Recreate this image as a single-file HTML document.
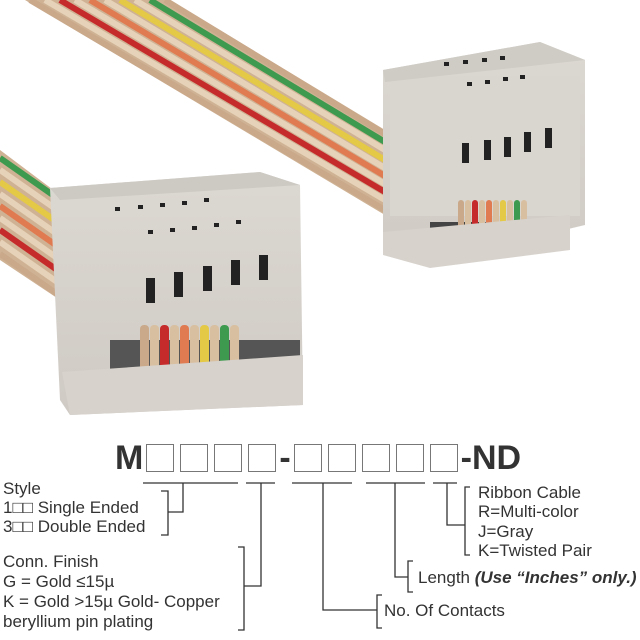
<!DOCTYPE html>
<html><head><style>
body{margin:0;width:640px;height:640px;background:#fff;overflow:hidden;position:relative;font-family:"Liberation Sans",sans-serif;color:#333}
.t{position:absolute;font-size:17px;white-space:nowrap;line-height:1}
.b{display:inline-block;width:26px;height:26px;border:1.5px solid #777;margin:0 3px;vertical-align:-3px}
</style></head><body>
<svg width="640" height="430" style="position:absolute;left:0;top:0">
<defs><linearGradient id="g" x1="0" y1="0" x2="0" y2="1"><stop offset="0" stop-color="#dcd8d2"/><stop offset="1" stop-color="#cfcac4"/></linearGradient></defs>
<path d="M25,0 L170,0 L385,130 L385,215 Z" fill="#cfb294"/>
<path d="M0,150 L60,195 L60,300 L0,260 Z" fill="#cfb294"/>
<g fill="none" stroke-width="6">
<path d="M30,0 L385,210" stroke="#c9a98a"/>
<path d="M45,0 L385,200" stroke="#e6d2b8"/>
<path d="M60,0 L385,192" stroke="#c62b2b"/>
<path d="M75,0 L385,184" stroke="#e6d2b8"/>
<path d="M90,0 L385,176" stroke="#e07a50"/>
<path d="M105,0 L385,168" stroke="#e6d2b8"/>
<path d="M120,0 L385,160" stroke="#e3c946"/>
<path d="M135,0 L385,150" stroke="#e6d2b8"/>
<path d="M150,0 L385,142" stroke="#3e9a4e"/>
<path d="M165,0 L385,134" stroke="#c9a98a"/>
<path d="M0,158 L60,200" stroke="#3e9a4e"/>
<path d="M0,170 L60,212" stroke="#e6d2b8"/>
<path d="M0,182 L60,224" stroke="#e3c946"/>
<path d="M0,194 L60,236" stroke="#e6d2b8"/>
<path d="M0,206 L60,248" stroke="#e07a50"/>
<path d="M0,218 L60,260" stroke="#e6d2b8"/>
<path d="M0,230 L60,272" stroke="#c62b2b"/>
<path d="M0,242 L60,284" stroke="#e6d2b8"/>
<path d="M0,254 L60,296" stroke="#c9a98a"/>
</g>
<path d="M383,70 L540,42 L585,60 L585,225 L430,262 L383,240 Z" fill="url(#g)"/>
<rect x="390" y="76" width="190" height="140" fill="#d9d5cf"/>
<path d="M383,70 L540,42 L585,60 L385,82Z" fill="#cfcbc5"/>
<g fill="#222"><rect x="462" y="143" width="7" height="20"/><rect x="484" y="140" width="7" height="20"/><rect x="504" y="137" width="7" height="20"/><rect x="524" y="132" width="7" height="20"/><rect x="545" y="128" width="7" height="20"/>
<rect x="444" y="62" width="5" height="4"/><rect x="463" y="60" width="5" height="4"/><rect x="482" y="58" width="5" height="4"/><rect x="500" y="56" width="5" height="4"/><rect x="467" y="82" width="5" height="4"/><rect x="485" y="80" width="5" height="4"/><rect x="503" y="77" width="5" height="4"/><rect x="520" y="75" width="5" height="4"/></g>
<rect x="430" y="222" width="140" height="18" fill="#444"/>
<g><rect x="458" y="200" width="6" height="42" rx="3" fill="#c9a98a"/><rect x="465" y="200" width="6" height="42" rx="3" fill="#d8bfa0"/><rect x="472" y="200" width="6" height="42" rx="3" fill="#c62b2b"/><rect x="479" y="200" width="6" height="42" rx="3" fill="#d8bfa0"/><rect x="486" y="200" width="6" height="42" rx="3" fill="#e07a50"/><rect x="493" y="200" width="6" height="42" rx="3" fill="#d8bfa0"/><rect x="500" y="200" width="6" height="42" rx="3" fill="#e3c946"/><rect x="507" y="200" width="6" height="42" rx="3" fill="#d8bfa0"/><rect x="514" y="200" width="6" height="42" rx="3" fill="#3e9a4e"/><rect x="521" y="200" width="6" height="42" rx="3" fill="#d8bfa0"/></g>
<path d="M383,232 L570,215 L570,250 L430,268 L383,255Z" fill="#d7d2cc"/>
<path d="M50,188 L260,172 L300,185 L303,405 L70,415 L60,400 Z" fill="url(#g)"/>
<path d="M50,188 L260,172 L300,185 L60,200Z" fill="#cdc9c3"/>
<g fill="#222"><rect x="146" y="278" width="9" height="25"/><rect x="174" y="272" width="9" height="25"/><rect x="203" y="266" width="9" height="25"/><rect x="231" y="260" width="9" height="25"/><rect x="259" y="255" width="9" height="25"/>
<rect x="115" y="207" width="5" height="4"/><rect x="138" y="205" width="5" height="4"/><rect x="160" y="203" width="5" height="4"/><rect x="182" y="201" width="5" height="4"/><rect x="204" y="198" width="5" height="4"/><rect x="148" y="230" width="5" height="4"/><rect x="170" y="228" width="5" height="4"/><rect x="192" y="226" width="5" height="4"/><rect x="214" y="223" width="5" height="4"/><rect x="236" y="220" width="5" height="4"/></g>
<rect x="110" y="340" width="190" height="32" fill="#555"/>
<g><rect x="140" y="325" width="9" height="60" rx="4" fill="#c9a98a"/><rect x="150" y="325" width="9" height="60" rx="4" fill="#d8bfa0"/><rect x="160" y="325" width="9" height="60" rx="4" fill="#c62b2b"/><rect x="170" y="325" width="9" height="60" rx="4" fill="#d8bfa0"/><rect x="180" y="325" width="9" height="60" rx="4" fill="#e07a50"/><rect x="190" y="325" width="9" height="60" rx="4" fill="#d8bfa0"/><rect x="200" y="325" width="9" height="60" rx="4" fill="#e3c946"/><rect x="210" y="325" width="9" height="60" rx="4" fill="#d8bfa0"/><rect x="220" y="325" width="9" height="60" rx="4" fill="#3e9a4e"/><rect x="230" y="325" width="9" height="60" rx="4" fill="#d8bfa0"/></g>
<path d="M62,372 L303,355 L303,405 L70,415Z" fill="#d7d2cc"/>
</svg>
<div class="t" style="left:115px;top:440px;font-size:34px;font-weight:bold;line-height:36px">M<span class="b"></span><span class="b"></span><span class="b"></span><span class="b"></span>-<span class="b"></span><span class="b"></span><span class="b"></span><span class="b"></span><span class="b"></span>-ND</div>
<svg width="640" height="210" style="position:absolute;left:0;top:430px" fill="none" stroke="#333" stroke-width="1.3">
<path d="M143,53H238 M246,53H275 M292,53H352 M366,53H425 M433,53H457"/>
<path d="M161,61H168V105H161 M168,82H183V53"/>
<path d="M238,117H244V200H238 M244,156H261V53"/>
<path d="M323,53V180H377 M382,165H377V198H382"/>
<path d="M395,53V147H408 M413,131H408V162H413"/>
<path d="M447,53V95H465 M470,57H465V125H470"/>
</svg>
<div class="t" style="left:3px;top:480px">Style</div>
<div class="t" style="left:3px;top:499px">1□□ Single Ended</div>
<div class="t" style="left:3px;top:518px">3□□ Double Ended</div>
<div class="t" style="left:3px;top:553px">Conn. Finish</div>
<div class="t" style="left:3px;top:573px">G = Gold ≤15µ</div>
<div class="t" style="left:3px;top:593px">K = Gold &gt;15µ Gold- Copper</div>
<div class="t" style="left:3px;top:613px">beryllium pin plating</div>
<div class="t" style="left:478px;top:484px">Ribbon Cable</div>
<div class="t" style="left:478px;top:503px">R=Multi-color</div>
<div class="t" style="left:478px;top:523px">J=Gray</div>
<div class="t" style="left:478px;top:542px">K=Twisted Pair</div>
<div class="t" style="left:418px;top:569px">Length <b><i>(Use “Inches” only.)</i></b></div>
<div class="t" style="left:384px;top:602px">No. Of Contacts</div>
</body></html>
